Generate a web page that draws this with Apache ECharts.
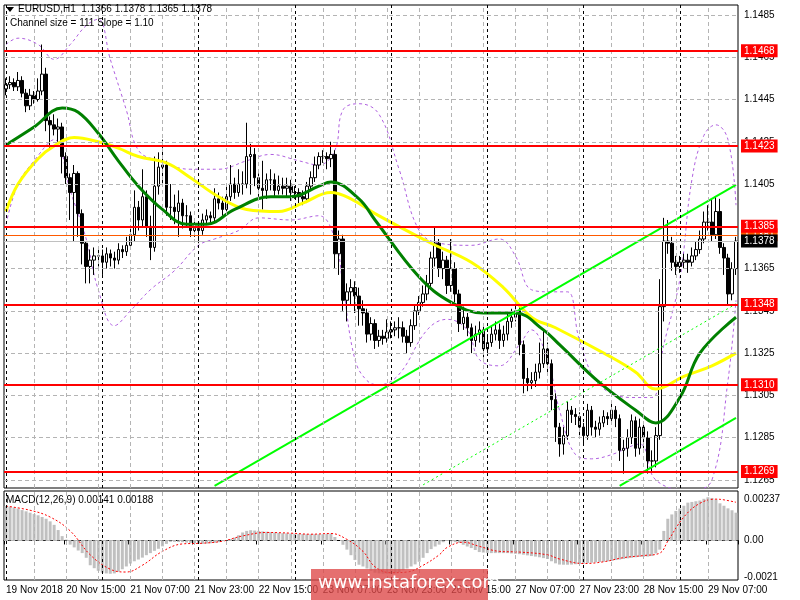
<!DOCTYPE html>
<html><head><meta charset="utf-8">
<script src="https://cdn.jsdelivr.net/npm/echarts@6/dist/echarts.min.js"></script>
<style>html,body{margin:0;padding:0;background:#fff}#c{width:800px;height:600px}</style>
</head><body><div id="c"></div>
<script>
const firstOpen = 1.1450;
const closes = [1.1452,1.1453,1.1451,1.1454,1.1448,1.1442,1.1447,1.1445,1.1449,1.1457,
1.1435,1.1433,1.1431,1.1432,1.1418,1.1408,1.1401,1.1410,1.1391,1.1377,
1.1366,1.1369,1.1371,1.1371,1.1368,1.1372,1.1370,1.1369,1.1374,1.1373,
1.1376,1.1381,1.1394,1.1388,1.1399,1.1385,1.1375,1.1404,1.1413,1.1414,
1.1394,1.1394,1.1392,1.1396,1.1390,1.1390,1.1383,1.1384,1.1383,1.1388,
1.1390,1.1389,1.1398,1.1396,1.1393,1.1399,1.1405,1.1401,1.1405,1.1405,
1.1418,1.1419,1.1408,1.1403,1.1402,1.1407,1.1407,1.1402,1.1404,1.1403,
1.1404,1.1401,1.1401,1.1399,1.1398,1.1404,1.1408,1.1414,1.1418,1.1418,
1.1417,1.1419,1.1372,1.1379,1.1350,1.1354,1.1356,1.1352,1.1346,1.1344,
1.1334,1.1339,1.1331,1.1333,1.1332,1.1335,1.1336,1.1337,1.1337,1.1333,
1.1330,1.1338,1.1345,1.1349,1.1353,1.1358,1.1370,1.1377,1.1365,1.1369,
1.1357,1.1365,1.1353,1.1339,1.1342,1.1337,1.1331,1.1334,1.1336,1.1327,
1.1330,1.1334,1.1336,1.1331,1.1334,1.1340,1.1342,1.1345,1.1329,1.1313,
1.1311,1.1312,1.1316,1.1320,1.1327,1.1320,1.1303,1.1290,1.1282,1.1286,
1.1298,1.1296,1.1295,1.1290,1.1286,1.1298,1.1290,1.1289,1.1292,1.1295,
1.1294,1.1298,1.1294,1.1279,1.1280,1.1285,1.1293,1.1280,1.1290,1.1285,
1.1274,1.1274,1.1286,1.1347,1.1378,1.1377,1.1368,1.1366,1.1368,1.1369,
1.1368,1.1371,1.1374,1.1379,1.1387,1.1387,1.1381,1.1392,1.1375,1.1370,
1.1353,1.1365,1.1378];
const highs = [1.1455,1.1456,1.1455,1.1458,1.1456,1.1450,1.1450,1.1449,1.1455,1.1471,
1.1460,1.1437,1.1438,1.1436,1.1434,1.1420,1.1410,1.1414,1.1411,1.1393,
1.1378,1.1374,1.1375,1.1374,1.1374,1.1375,1.1374,1.1373,1.1377,1.1376,
1.1380,1.1384,1.1402,1.1397,1.1412,1.1402,1.1390,1.1418,1.1420,1.1426,
1.1416,1.1405,1.1400,1.1402,1.1398,1.1395,1.1392,1.1388,1.1387,1.1391,
1.1393,1.1392,1.1403,1.1401,1.1399,1.1404,1.1414,1.1408,1.1412,1.1411,
1.1434,1.1424,1.1422,1.1410,1.1416,1.1410,1.1412,1.1410,1.1409,1.1408,
1.1408,1.1407,1.1404,1.1403,1.1402,1.1406,1.1411,1.1418,1.1420,1.1421,
1.1420,1.1425,1.1421,1.1383,1.1381,1.1358,1.1360,1.1359,1.1356,1.1350,
1.1346,1.1342,1.1341,1.1336,1.1336,1.1341,1.1340,1.1340,1.1342,1.1340,
1.1336,1.1341,1.1348,1.1352,1.1357,1.1362,1.1373,1.1385,1.1379,1.1373,
1.1371,1.1379,1.1368,1.1355,1.1347,1.1344,1.1339,1.1338,1.1340,1.1339,
1.1334,1.1338,1.1340,1.1339,1.1338,1.1344,1.1346,1.1349,1.1347,1.1331,
1.1318,1.1316,1.1320,1.1330,1.1336,1.1330,1.1322,1.1306,1.1292,1.1290,
1.1302,1.1300,1.1299,1.1297,1.1292,1.1301,1.1300,1.1293,1.1295,1.1298,
1.1297,1.1301,1.1300,1.1296,1.1284,1.1289,1.1296,1.1295,1.1294,1.1292,
1.1288,1.1279,1.1290,1.1360,1.1389,1.1388,1.1380,1.1371,1.1371,1.1372,
1.1372,1.1375,1.1378,1.1383,1.1392,1.1395,1.1398,1.1399,1.1398,1.1377,
1.1372,1.1368,1.1380];
const lows = [1.1447,1.1450,1.1449,1.1449,1.1446,1.1439,1.1440,1.1443,1.1444,1.1447,
1.1430,1.1422,1.1428,1.1425,1.1410,1.1405,1.1388,1.1378,1.1380,1.1367,
1.1358,1.1358,1.1362,1.1366,1.1362,1.1365,1.1366,1.1365,1.1367,1.1370,
1.1371,1.1374,1.1378,1.1383,1.1385,1.1380,1.1369,1.1373,1.1400,1.1405,
1.1390,1.1388,1.1386,1.1380,1.1384,1.1385,1.1380,1.1380,1.1377,1.1381,
1.1386,1.1386,1.1387,1.1393,1.1390,1.1391,1.1397,1.1398,1.1399,1.1400,
1.1403,1.1400,1.1404,1.1399,1.1393,1.1398,1.1402,1.1399,1.1400,1.1400,
1.1399,1.1397,1.1398,1.1396,1.1395,1.1396,1.1402,1.1406,1.1412,1.1415,
1.1412,1.1413,1.1365,1.1362,1.1345,1.1340,1.1348,1.1344,1.1338,1.1338,
1.1330,1.1331,1.1327,1.1328,1.1329,1.1330,1.1332,1.1333,1.1332,1.1330,
1.1325,1.1328,1.1336,1.1343,1.1347,1.1350,1.1355,1.1366,1.1361,1.1360,
1.1353,1.1354,1.1349,1.1335,1.1336,1.1333,1.1325,1.1328,1.1330,1.1323,
1.1324,1.1328,1.1331,1.1327,1.1328,1.1331,1.1337,1.1340,1.1324,1.1306,
1.1307,1.1308,1.1309,1.1313,1.1318,1.1315,1.1298,1.1283,1.1276,1.1277,
1.1284,1.1292,1.1291,1.1285,1.1282,1.1284,1.1286,1.1285,1.1286,1.1290,
1.1291,1.1292,1.1290,1.1274,1.1268,1.1276,1.1282,1.1276,1.1277,1.1280,
1.1268,1.1269,1.1271,1.1284,1.1340,1.1372,1.1364,1.1362,1.1363,1.1365,
1.1363,1.1366,1.1369,1.1372,1.1377,1.1383,1.1378,1.1379,1.1372,1.1362,
1.1348,1.1350,1.1362];

const maGreenIdx = [0,7,14,18,23,28,33,39,45,50,57,66,71,78,81,88,92,103,111,119,127,134,138,148,157,162,168,173,182];
const maGreenVal = [1.14235,1.1432,1.1441,1.1439,1.1429,1.1416,1.1404,1.1393,1.1386,1.1386,1.1393,1.1399,1.1399,1.1404,1.1406,1.1398,1.1388,1.1361,1.1349,1.1344,1.1344,1.1336,1.1329,1.1311,1.1298,1.1292,1.1304,1.1325,1.1342];
const maYellowIdx = [0,3,8,12,17,23,28,33,40,46,53,60,68,74,81,86,92,106,116,124,131,137,151,157,162,169,176,182];
const maYellowVal = [1.1392,1.1405,1.1417,1.1423,1.1427,1.1425,1.1422,1.1418,1.1415,1.1408,1.1399,1.1393,1.1392,1.1396,1.1401,1.1398,1.1391,1.1377,1.1368,1.1356,1.1342,1.1337,1.1323,1.1316,1.1308,1.1314,1.1319,1.1325];
const bandUpIdx = [0,3,8,12,16,20,23,26,30,33,38,46,53,60,66,73,78,82,84,88,93,98,103,108,116,123,127,131,136,140,143,148,156,161,164,168,171,174,177,180,182];
const bandUpVal = [1.1471,1.1474,1.1471,1.1464,1.1471,1.1480,1.1483,1.1464,1.1440,1.1421,1.1416,1.1412,1.1412,1.1416,1.1419,1.1416,1.1414,1.1421,1.1440,1.1443,1.1438,1.1412,1.1383,1.1377,1.1376,1.1379,1.1371,1.1355,1.1354,1.1354,1.1331,1.1310,1.1304,1.1304,1.1329,1.1360,1.1407,1.1428,1.1433,1.1426,1.1395];
const bandLoIdx = [0,3,7,12,16,20,23,27,31,36,42,48,52,58,63,71,78,82,84,87,90,93,98,105,110,115,118,123,128,131,135,138,142,146,151,158,162,171,176,180,182];
const bandLoVal = [1.1386,1.1405,1.1416,1.1426,1.1402,1.1379,1.1355,1.1338,1.1345,1.1355,1.1364,1.1376,1.1379,1.1383,1.1389,1.1388,1.1390,1.1379,1.1357,1.1322,1.1312,1.1310,1.1315,1.1336,1.1341,1.1336,1.1322,1.1319,1.1329,1.1336,1.1322,1.1298,1.1277,1.1275,1.1277,1.1282,1.1265,1.1260,1.1265,1.1312,1.1350];
const channelUpper = [[52,1.12622],[182,1.14046]];
const channelLower = [[153,1.12622],[182,1.12944]];
const channelMid = [[104,1.12627],[182,1.13483]];

const macdHist = [198,195,190,184,175,168,160,152,145,135,
125,110,90,60,25,5,-24,-40,-58,-73,
-100,-143,-160,-175,-186,-190,-192,-190,-180,-166,
-150,-133,-120,-110,-99,-85,-73,-60,-48,-34,
-20,-8,-8,-9,-10,-12,-14,-16,-18,-20,
-18,-16,-14,-10,-4,2,8,16,30,46,
55,59,57,55,52,50,48,46,44,42,
41,40,39,38,37,36,36,36,36,36,
38,40,20,0,-25,-53,-85,-113,-140,-150,
-162,-175,-186,-190,-192,-192,-192,-190,-182,-172,
-162,-150,-138,-123,-100,-73,-50,-35,-24,-10,
0,-5,-10,-14,-25,-35,-44,-55,-67,-70,
-72,-73,-73,-73,-73,-73,-75,-77,-79,-82,
-86,-90,-93,-97,-102,-107,-120,-132,-139,-140,
-140,-139,-137,-135,-133,-130,-128,-126,-124,-123,
-120,-118,-113,-110,-107,-103,-100,-97,-95,-94,
-93,-90,-75,-53,55,125,150,170,184,200,
218,222,226,230,240,249,245,235,214,200,
185,174,160];  // units of 1e-5
const sigIdx = [0,6,11,16,21,26,30,34,39,44,49,54,59,65,71,76,81,85,89,92,96,100,104,108,110,114,118,123,128,135,138,144,149,154,159,163,165,169,173,177,179,182];
const sigVal = [198,174,135,55,-83,-166,-182,-143,-63,-20,-16,-4,26,46,42,36,40,6,-63,-152,-186,-182,-143,-83,-40,-10,-34,-63,-67,-83,-107,-133,-123,-99,-87,-73,-4,135,214,238,234,220]; // 1e-5

const priceTicks = [1.1485,1.1465,1.1445,1.1425,1.1405,1.1385,1.1365,1.1345,1.1325,1.1305,1.1285,1.1265];
const redLevels = [1.1468,1.1423,1.1385,1.1348,1.1310,1.1269];
const orangeLevel = 1.1381;
const lastPrice = 1.1378;
const macdTicks = ['0.00237','-0.0021'];
const xLabels = {0:'19 Nov 2018',15:'20 Nov 15:00',31:'21 Nov 07:00',47:'21 Nov 23:00',63:'22 Nov 15:00',79:'23 Nov 07:00',95:'23 Nov 23:00',111:'26 Nov 15:00',127:'27 Nov 07:00',143:'27 Nov 23:00',159:'28 Nov 15:00',175:'29 Nov 07:00'};
const daySeps = [0,24,48,72,96,120,144,168];

const N = closes.length;
const cats = closes.map((_, i) => String(i));
const candles = closes.map((c, i) => [i ? closes[i-1] : firstOpen, c, lows[i], highs[i]]);
const pair = (ix, v, s) => ix.map((k, j) => [k, s ? v[j] * s : v[j]]);
const FONT = 'Liberation Sans';
const grayV = []; for (let i = 7; i < N; i += 8) grayV.push(i);
const noLbl = {show: false};
const hidden = {color: 'rgba(0,0,0,0)', width: 0.1, type: 'solid'};

function vLines() {
  return grayV.map(i => ({xAxis: String(i), label: noLbl, lineStyle: {color: '#b4b4b4', type: [4,3], width: 1}}))
   .concat(daySeps.map(i => ({xAxis: String(i), label: noLbl, lineStyle: {color: '#000', type: [3,3], width: 1}})));
}
const lbl = (bg, fg, txt) => ({show: true, position: 'end', distance: 3, backgroundColor: bg, color: fg, padding: [2,3,1,3], fontSize: 10, fontFamily: FONT, formatter: txt});

const priceMark = [].concat(
  vLines(),
  priceTicks.map(v => ({yAxis: v, lineStyle: {color: '#b4b4b4', type: [4,3], width: 1}, label: lbl('transparent', '#000', v.toFixed(4))})),
  [{yAxis: lastPrice, lineStyle: {color: '#c0c0c0', type: 'solid', width: 1}, label: noLbl}],
  [{yAxis: orangeLevel, lineStyle: {color: '#ff5a00', type: 'solid', width: 1}, label: lbl('#ff5a00', '#fff', orangeLevel.toFixed(4))}],
  redLevels.map(v => ({yAxis: v, lineStyle: {color: '#ff0000', type: 'solid', width: 2}, label: lbl('#ff0000', '#fff', v.toFixed(4))})),
  [{yAxis: lastPrice + 0.0000001, lineStyle: hidden, label: lbl('#000', '#fff', lastPrice.toFixed(4))}]
);
const macdMark = [].concat(
  vLines(),
  [{yAxis: 0, lineStyle: {color: '#b4b4b4', type: [4,3], width: 1}, label: lbl('transparent','#000','0.00')}],
  macdTicks.map(t => ({yAxis: Number(t), lineStyle: hidden, label: lbl('transparent','#000', t)}))
);

const chart = echarts.init(document.getElementById('c'), null, {renderer: 'canvas'});
chart.setOption({
  animation: false,
  backgroundColor: '#fff',
  grid: [
    {left: 4, right: 62, top: 5, height: 483, show: true, borderColor: '#000', borderWidth: 1},
    {left: 4, right: 62, top: 491, height: 89, show: true, borderColor: '#000', borderWidth: 1}
  ],
  xAxis: [
    {type: 'category', data: cats, gridIndex: 0, boundaryGap: true, axisLine: {show: false}, axisTick: {show: false}, axisLabel: {show: false}, splitLine: {show: false}},
    {type: 'category', data: cats, gridIndex: 1, boundaryGap: true, axisLine: {lineStyle: {color: '#000'}},
     axisTick: {show: true, interval: (i) => xLabels[i] !== undefined, length: 4, lineStyle: {color: '#000'}},
     axisLabel: {show: true, interval: (i) => xLabels[i] !== undefined, formatter: (v, i) => xLabels[i] || '', color: '#000', fontSize: 10, fontFamily: FONT, align: 'left', margin: 5}, splitLine: {show: false}}
  ],
  yAxis: [
    {type: 'value', gridIndex: 0, min: 1.12612, max: 1.14897, show: false, splitLine: {show: false}},
    {type: 'value', gridIndex: 1, min: -0.00228, max: 0.00285, show: false, splitLine: {show: false}}
  ],
  series: [
    {type: 'candlestick', xAxisIndex: 0, yAxisIndex: 0, data: candles, barWidth: 3,
     itemStyle: {color: '#fff', color0: '#000', borderColor: '#000', borderColor0: '#000', borderWidth: 1},
     markLine: {silent: true, symbol: 'none', animation: false, precision: 7, data: priceMark}, z: 3},
    {type: 'line', data: pair(bandUpIdx, bandUpVal), showSymbol: false, smooth: 0.4, lineStyle: {color: '#b060e0', width: 1, type: [3,3]}, z: 2},
    {type: 'line', data: pair(bandLoIdx, bandLoVal), showSymbol: false, smooth: 0.4, lineStyle: {color: '#b060e0', width: 1, type: [3,3]}, z: 2},
    {type: 'line', data: pair(maYellowIdx, maYellowVal), showSymbol: false, smooth: 0.4, lineStyle: {color: '#ffff00', width: 3}, z: 4},
    {type: 'line', data: pair(maGreenIdx, maGreenVal), showSymbol: false, smooth: 0.4, lineStyle: {color: '#008000', width: 3}, z: 4},
    {type: 'line', data: channelUpper, showSymbol: false, lineStyle: {color: '#00ff00', width: 2}, z: 4},
    {type: 'line', data: channelLower, showSymbol: false, lineStyle: {color: '#00ff00', width: 2}, z: 4},
    {type: 'line', data: channelMid, showSymbol: false, lineStyle: {color: '#00ff00', width: 1, type: [2,3]}, z: 4},
    {type: 'bar', xAxisIndex: 1, yAxisIndex: 1, data: macdHist.map(v => v * 1e-5), barWidth: 3, itemStyle: {color: '#c0c0c0'},
     markLine: {silent: true, symbol: 'none', animation: false, precision: 6, data: macdMark}},
    {type: 'line', xAxisIndex: 1, yAxisIndex: 1, data: pair(sigIdx, sigVal, 1e-5), showSymbol: false, smooth: 0.4, lineStyle: {color: '#ff0000', width: 1, type: [2,2]}, z: 4}
  ],
  graphic: [
    {type: 'polygon', shape: {points: [[6,7],[14,7],[10,12]]}, style: {fill: '#000'}, z: 10},
    {type: 'text', left: 18, top: 4, style: {text: 'EURUSD,H1  1.1366 1.1378 1.1365 1.1378', fontSize: 10, fontFamily: FONT, fill: '#000'}, z: 10},
    {type: 'text', left: 10, top: 18, style: {text: 'Channel size = 111 Slope = 1.10', fontSize: 10, fontFamily: FONT, fill: '#000'}, z: 10},
    {type: 'text', left: 6, top: 495, style: {text: 'MACD(12,26,9) 0.00141 0.00188', fontSize: 10, fontFamily: FONT, fill: '#000'}, z: 10},
    {type: 'rect', shape: {x: 311, y: 569, width: 177, height: 31}, style: {fill: 'rgba(222,70,70,0.78)'}, z: 20},
    {type: 'text', left: 318, top: 574, style: {text: 'www.instaforex.com', fontSize: 18, fontFamily: 'DejaVu Sans', fill: '#fff'}, z: 21}
  ]
});
</script></body></html>
